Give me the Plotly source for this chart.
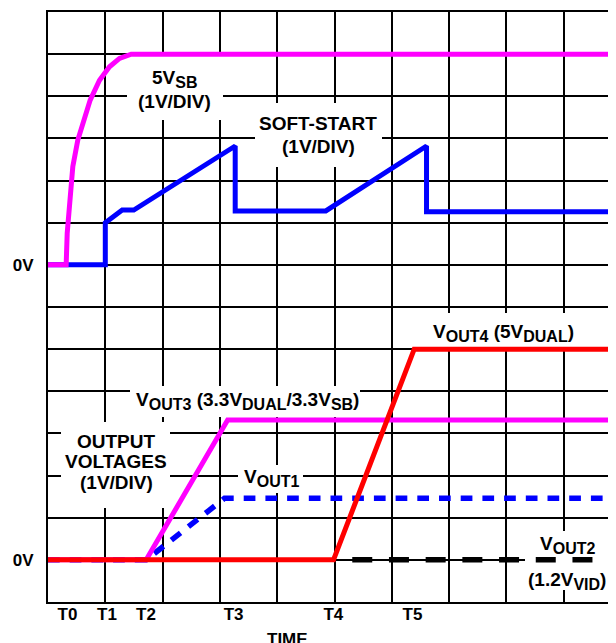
import plotly.graph_objects as go

# ---------------- data (time and level in scope divisions, voltages in volts) ----
T_LABELS = ["T0", "T1", "T2", "T3", "T4", "T5"]
T_POS = [0.34, 1.03, 1.71, 3.24, 4.98, 6.36]
Y_LABELS = ["0V", "0V"]
UPPER_ZERO = 8   # division of the upper 0V reference
LOWER_ZERO = 1   # division of the lower 0V reference

# upper group, 1V/div
t_5vsb = [0.0, 0.317, 0.335, 0.375, 0.433, 0.52, 0.62, 0.736, 0.899, 1.073, 1.248, 1.452, 9.92]
v_5vsb = [0.0, 0.0, 0.75, 1.54, 2.33, 2.96, 3.43, 3.91, 4.38, 4.70, 4.90, 5.0, 5.0]
t_softstart = [0.0, 1.0, 1.0, 1.295, 1.497, 3.267, 3.267, 4.848, 6.606, 6.606, 9.92]
v_softstart = [0.0, 0.0, 1.0, 1.3, 1.3, 2.82, 1.28, 1.28, 2.82, 1.26, 1.26]

# lower group, 1V/div
t_vout1 = [0.0, 1.714, 3.08, 9.92]
v_vout1 = [0.0, 0.0, 1.46, 1.46]
t_vout3 = [0.0, 1.714, 3.135, 9.92]
v_vout3 = [0.0, 0.0, 3.32, 3.32]
t_vout4 = [0.0, 4.983, 6.391, 9.92]
v_vout4 = [0.0, 0.0, 5.0, 5.0]
t_vout2 = [5.31, 9.92]
v_vout2 = [0.0, 0.0]

# ---------------- layout geometry ----------------
# the page body has an 8px margin, so the figure is laid out 8px smaller
BODY = 8
W, H = 616 - BODY, 643 - BODY
PLOT_L, PLOT_T, PLOT_B = 48, 12, 602          # window pixels of the grid frame
ML, MT, MB = PLOT_L - BODY, PLOT_T - BODY, H - (PLOT_B - BODY)
PX_DIV_X = 57.3
XMAX = (W - ML) / PX_DIV_X
YMAX = 14
PX_DIV_Y = (PLOT_B - PLOT_T) / YMAX
FONT = "Liberation Sans, Arial, Helvetica, sans-serif"


def px2x(px):
    return (px - PLOT_L) / PX_DIV_X


def px2y(py):
    return (PLOT_B - py) / PX_DIV_Y


def sub(s):
    return f'<sub><span style="font-size:16px">{s}</span></sub>'


fig = go.Figure()


def add_line(t, v, zero, color, width, dash="solid"):
    fig.add_trace(go.Scatter(
        x=t, y=[zero + val for val in v], mode="lines",
        line=dict(color=color, width=width, dash=dash),
        hoverinfo="skip", showlegend=False))


add_line(t_vout1, v_vout1, LOWER_ZERO, "#0000FF", 5.5, "11.7px,10px")
add_line(t_vout3, v_vout3, LOWER_ZERO, "#FF00FF", 5)
add_line(t_vout4, v_vout4, LOWER_ZERO, "#FF0000", 5)
add_line(t_vout2, v_vout2, LOWER_ZERO, "#000000", 5.5, "20px,16.7px")
add_line(t_softstart, v_softstart, UPPER_ZERO, "#0000FF", 5)
add_line(t_5vsb, v_5vsb, UPPER_ZERO, "#FF00FF", 5)

# white label backgrounds (window pixel boxes: x0, x1, y0, y1)
boxes = [
    (127, 223, 56, 120),
    (255, 382, 103, 167),
    (130, 360, 386, 417),
    (61, 170, 422, 508),
    (238, 303, 465, 493),
    (428, 580, 313, 348),
    (525, 610, 531, 590),
]
for x0, x1, y0, y1 in boxes:
    fig.add_shape(type="rect", xref="x", yref="y",
                  x0=px2x(x0), x1=px2x(x1), y0=px2y(y1), y1=px2y(y0),
                  fillcolor="white", line=dict(width=0), layer="between")

labels = [
    ("5V" + sub("SB"), 174, 79),
    ("(1V/DIV)", 174.5, 101.5),
    ("SOFT-START", 318, 123.6),
    ("(1V/DIV)", 318, 146.3),
    ("V" + sub("OUT3") + " (3.3V" + sub("DUAL") + "/3.3V" + sub("SB") + ")", 247.5, 401.2),
    ("OUTPUT", 116.3, 441.3),
    ("VOLTAGES", 115.8, 461.3),
    ("(1V/DIV)", 116.3, 482),
    ("V" + sub("OUT1"), 271, 478),
    ("V" + sub("OUT4") + " (5V" + sub("DUAL") + ")", 503.3, 333),
    ("V" + sub("OUT2"), 567.8, 544.6),
    ("(1.2V" + sub("VID") + ")", 567.3, 580.5),
]
for text, px, py in labels:
    fig.add_annotation(text=text, x=px2x(px), y=px2y(py), xref="x", yref="y",
                       showarrow=False, xanchor="center", yanchor="middle",
                       font=dict(family=FONT, size=19, color="black", weight="bold"))

# axis title sits below the plot area: place it in paper coordinates
fig.add_annotation(text="TIME", x=px2x(287), xref="x",
                   y=(PLOT_B - 639) / (PLOT_B - PLOT_T), yref="paper",
                   showarrow=False, xanchor="center", yanchor="middle",
                   font=dict(family=FONT, size=17, color="black", weight="bold"))

fig.update_layout(
    width=W, height=H,
    margin=dict(l=ML, r=0, t=MT, b=MB, pad=0, autoexpand=False),
    paper_bgcolor="white", plot_bgcolor="white",
    font=dict(family=FONT, size=17, color="black", weight="bold"),
    showlegend=False,
)
fig.update_xaxes(
    range=[0, XMAX], fixedrange=True,
    tickmode="array", tickvals=T_POS, ticktext=T_LABELS, ticks="", ticklen=0,
    ticklabelstandoff=-4,
    showgrid=False, zeroline=False,
    showline=True, linecolor="black", linewidth=2, mirror=True,
    minor=dict(tickmode="linear", tick0=0, dtick=1, showgrid=True,
               gridcolor="black", gridwidth=2, ticks=""),
    tickfont=dict(family=FONT, size=17, color="black", weight="bold"),
)
fig.update_yaxes(
    range=[0, YMAX], fixedrange=True,
    tickmode="array", tickvals=[UPPER_ZERO, LOWER_ZERO], ticktext=Y_LABELS, ticks="", ticklen=0,
    ticklabelstandoff=9,
    showgrid=False, zeroline=False,
    showline=True, linecolor="black", linewidth=2, mirror=False,
    minor=dict(tickmode="linear", tick0=0, dtick=1, showgrid=True,
               gridcolor="black", gridwidth=2, ticks=""),
    tickfont=dict(family=FONT, size=17, color="black", weight="bold"),
)

fig.write_html("out.html", config={"displayModeBar": False})
